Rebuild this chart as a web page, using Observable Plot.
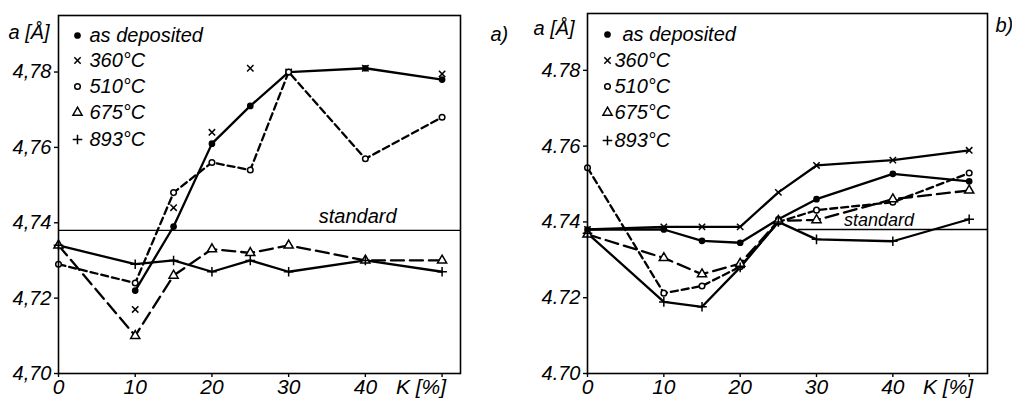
<!DOCTYPE html>
<html>
<head>
<meta charset="utf-8">
<script src="https://cdn.jsdelivr.net/npm/d3@7"></script>
<script src="https://cdn.jsdelivr.net/npm/@observablehq/plot@0.6"></script>
<style>
  html, body { margin: 0; padding: 0; background: #fff; }
  #wrap { position: relative; width: 1012px; height: 399px; overflow: hidden; background: #fff; }
  #wrap svg { position: absolute; top: 0; }
</style>
</head>
<body>
<div id="wrap"></div>
<script>
// ---------- data ----------
const K = [0, 10, 15, 20, 25, 30, 40, 50];
const seriesNames = ["as deposited", "360°C", "510°C", "675°C", "893°C"];

// panel a)
const aAsDep = [null, 4.722, 4.739, 4.761, 4.771, 4.780, 4.781, 4.778];
const a360   = [null, 4.717, 4.744, 4.764, 4.781, 4.780, 4.781, 4.7795];
const a510   = [4.729, 4.724, 4.748, 4.756, 4.754, 4.780, 4.757, 4.768];
const a675   = [4.734, 4.710, 4.726, 4.733, 4.732, 4.734, 4.730, 4.730];
const a893   = [4.734, 4.729, 4.730, 4.727, 4.730, 4.727, 4.730, 4.727];

// panel b)
const bAsDep = [4.738, 4.738, 4.735, 4.7345, 4.7407, 4.746, 4.7527, 4.7507];
const b360   = [4.738, 4.7387, 4.7387, 4.7387, 4.7478, 4.7549, 4.7563, 4.7589];
const b510   = [4.7543, 4.7212, 4.7231, 4.7282, 4.7400, 4.7431, 4.7452, 4.7529];
const b675   = [4.7367, 4.7305, 4.7262, 4.729, 4.7403, 4.7405, 4.746, 4.7483];
const b893   = [4.737, 4.7189, 4.7176, 4.728, 4.7400, 4.7354, 4.7349, 4.7407];

const standard = 4.738;
const standardLabel = "standard";
const yTicks = [4.70, 4.72, 4.74, 4.76, 4.78];
const xTicks = [0, 10, 20, 30, 40, 50];
const xTickLabels = ["0", "10", "20", "30", "40", ""];
const xUnitLabel = "K [%]";
const yLabel = "a [Å]";

// ---------- styles ----------
const FONT = "Liberation Sans, Arial, sans-serif";
const styleOf = {
  "as deposited": {symbol: "circle", fill: "black", r: 2.6, dash: null},
  "360°C": {symbol: "times", fill: "none", r: 3, dash: null},
  "510°C": {symbol: "circle", fill: "white", r: 2.8, dash: "7,4"},
  "675°C": {symbol: "triangle", fill: "white", r: 3.4, dash: "13,6"},
  "893°C": {symbol: "plus", fill: "none", r: 3.2, dash: null}
};

function rows(vals, name) {
  return K.map((k, i) => ({K: k, a: vals[i], name})).filter(d => d.a != null);
}

function panel(opts) {
  const {series, noLine, left, mLeft, mRight, mTop, mBottom, fmt, legend, std, label, tag} = opts;
  const marks = [];
  // standard line
  marks.push(Plot.ruleY([standard], {x1: std.x1, x2: std.x2, stroke: "black", strokeWidth: 1.3}));
  marks.push(Plot.text([standardLabel], {x: () => std.tx, y: () => standard, text: d => d, dy: std.dy, fontSize: std.fs, fontStyle: "italic", fontFamily: FONT, fill: "black", letterSpacing: "0.5px"}));
  // lines
  seriesNames.forEach((n, i) => {
    if (noLine.includes(n)) return;
    const s = styleOf[n];
    marks.push(Plot.line(rows(series[i], n), {x: "K", y: "a", stroke: "black", strokeWidth: 2.3, strokeDasharray: s.dash ?? undefined}));
  });
  // points
  seriesNames.forEach((n, i) => {
    const s = styleOf[n];
    marks.push(Plot.dot(rows(series[i], n), {x: "K", y: "a", symbol: s.symbol, r: s.r, stroke: "black", strokeWidth: 1.5, fill: s.fill}));
  });
  // frame & axes
  marks.push(Plot.frame({stroke: "black", strokeWidth: 1.6}));
  marks.push(Plot.axisY(yTicks, {tickSize: 4, tickPadding: 3, tickFormat: fmt, fontSize: 20, fontStyle: "italic", fontFamily: FONT, label: null, strokeWidth: 1.4}));
  marks.push(Plot.axisX(xTicks, {tickSize: 4, tickPadding: 2, tickFormat: (d, i) => xTickLabels[i], fontSize: 21, fontStyle: "italic", fontFamily: FONT, label: null, strokeWidth: 1.4}));
  marks.push(Plot.text([xUnitLabel], {x: () => 50, y: () => 4.70, text: d => d, dy: 14, dx: 4, lineAnchor: "middle", textAnchor: "end", fontSize: 21, fontStyle: "italic", fontFamily: FONT, fill: "black"}));
  // y label
  marks.push(Plot.text([yLabel], {x: null, y: null, text: d => d, frameAnchor: "top-left", dx: label.dx, dy: label.dy, textAnchor: "start", lineAnchor: "middle", fontSize: 20, fontStyle: "italic", fontFamily: FONT, fill: "black"}));
  // panel tag
  marks.push(Plot.text([tag.text], {x: null, y: null, text: d => d, frameAnchor: "top-right", dx: tag.dx, dy: tag.dy, textAnchor: "start", lineAnchor: "middle", fontSize: 20, fontStyle: "italic", fontFamily: FONT, fill: "black"}));
  // legend
  seriesNames.forEach((n, i) => {
    const s = styleOf[n];
    const dy = legend.dy[i];
    marks.push(Plot.dot([n], {x: null, y: null, frameAnchor: "top-left", dx: legend.mx, dy, symbol: s.symbol, r: s.r, stroke: "black", strokeWidth: 1.5, fill: s.fill}));
    marks.push(Plot.text([n], {x: null, y: null, text: d => d, frameAnchor: "top-left", dx: legend.tx[i], dy, textAnchor: "start", lineAnchor: "middle", fontSize: legend.fs, fontStyle: "italic", fontFamily: FONT, fill: "black", letterSpacing: legend.ls}));
  });

  const svg = Plot.plot({
    width: 506, height: 399,
    marginLeft: mLeft, marginRight: mRight, marginTop: mTop, marginBottom: mBottom,
    x: {domain: [0, 52.4], axis: null},
    y: {domain: [4.70, 4.795], axis: null},
    style: {background: "transparent", fontFamily: FONT, overflow: "visible"},
    marks
  });
  svg.style.left = left + "px";
  return svg;
}

const wrap = document.getElementById("wrap");
wrap.appendChild(panel({
  series: [aAsDep, a360, a510, a675, a893],
  noLine: ["360°C"],
  left: 0, mLeft: 58, mRight: 46, mTop: 15, mBottom: 26,
  fmt: d => d.toFixed(2).replace(".", ","),
  legend: {mx: 19, tx: [31, 31, 31, 31, 31], dy: [20, 45, 71, 97, 124], fs: 20, ls: "0.6px"},
  std: {x1: 0, x2: 52.4, tx: 39, dy: -14, fs: 20},
  label: {dx: -50, dy: 17},
  tag: {text: "a)", dx: 30, dy: 19}
}));
wrap.appendChild(panel({
  series: [bAsDep, b360, b510, b675, b893],
  noLine: [],
  left: 506, mLeft: 81, mRight: 25, mTop: 13, mBottom: 26,
  fmt: d => d.toFixed(2),
  legend: {mx: 20, tx: [35, 27, 27, 27, 27], dy: [21, 47, 73, 99, 127], fs: 20, ls: "1px"},
  std: {x1: 27.6, x2: 52.4, tx: 38.2, dy: -9, fs: 18},
  label: {dx: -54, dy: 15},
  tag: {text: "b)", dx: 8, dy: 12}
}));
</script>
</body>
</html>
